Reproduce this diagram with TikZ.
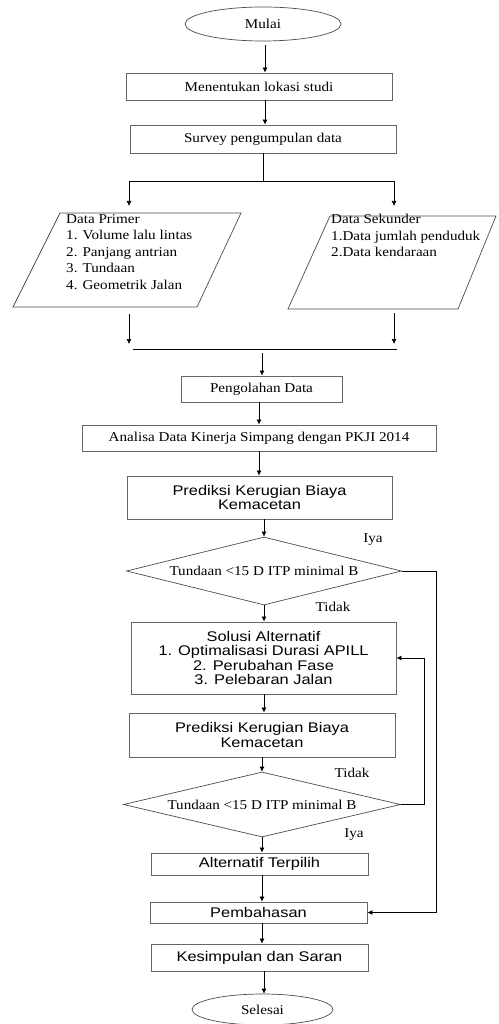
\documentclass[tikz,border=0pt]{standalone}
\usepackage{fontspec}
\setmainfont{Liberation Serif}
\newfontfamily\serw[FakeStretch=1.12]{Liberation Serif}
\newfontfamily\sanw[FakeStretch=1.17]{Liberation Sans}
\usetikzlibrary{shapes.geometric,arrows.meta}
\begin{document}
\begin{tikzpicture}[x=1pt,y=-1pt,
  box/.style={draw=black!60,line width=0.9pt,rectangle,inner sep=0pt,align=center},
  serb/.style={box,font=\serw\fontsize{13.5}{16}\selectfont},
  sanb/.style={box,font=\sanw\fontsize{14}{14.5}\selectfont},
  term/.style={draw=black!70,line width=0.7pt,ellipse,inner sep=0pt,font=\serw\fontsize{13.5}{16}\selectfont},
  dec/.style={draw=black!70,line width=0.7pt,diamond,shape aspect=4,inner sep=0pt,font=\serw\fontsize{13.5}{16}\selectfont},
  lbl/.style={font=\serw\fontsize{13.5}{16}\selectfont,inner sep=0pt},
  arr/.style={line width=0.7pt,-{Latex[length=5pt,width=5pt]}},
  ln/.style={line width=0.7pt}]
\useasboundingbox (0,0) rectangle (498,1024);

\node[term,minimum width=156,minimum height=34] (mulai) at (263,24) {Mulai};
\node[serb,minimum width=266,minimum height=27] (lok) at (259,86.5) {Menentukan lokasi studi};
\node[serb,minimum width=266,minimum height=28] (surv) at (263,139) {Survey pengumpulan data};

% split
\coordinate (m0) at (265,45);
\coordinate (l0) at (265,100);
\coordinate (s0) at (263,181);
\coordinate (sl) at (129,181);
\coordinate (sr) at (394,181);
\coordinate (slb) at (129,206);
\coordinate (srb) at (394,206);

% parallelograms
\draw[draw=black!70,line width=0.7pt] (60,213) coordinate (p1a) -- (241,213) -- (197,307) -- (13,307) -- cycle;
\draw[draw=black!70,line width=0.7pt] (330,216) coordinate (p2a) -- (496,216) -- (458,309) -- (288,309) -- cycle;
\node[font=\serw\fontsize{13.5}{16.5}\selectfont,align=left,anchor=north west,inner sep=0pt] (prim) at (66,214)
 {Data Primer\\1. Volume lalu lintas\\2. Panjang antrian\\3. Tundaan\\4. Geometrik Jalan};
\node[font=\serw\fontsize{13.5}{16.5}\selectfont,align=left,anchor=north west,inner sep=0pt] (sek) at (331,214)
 {Data Sekunder\\1.Data jumlah penduduk\\2.Data kendaraan};

\coordinate (l1) at (129,314);
\coordinate (l2) at (129,344);
\coordinate (r1) at (394,313);
\coordinate (r2) at (394,344);
\coordinate (ja) at (133,349);
\coordinate (jb) at (397,349);
\coordinate (j0) at (262,353);

\node[serb,minimum width=161,minimum height=26] (olah) at (261.5,389) {Pengolahan Data};
\node[serb,minimum width=354,minimum height=26] (anal) at (259,438) {Analisa Data Kinerja Simpang dengan PKJI 2014};
\node[sanb,minimum width=265,minimum height=43] (pred1) at (259.5,497.5) {Prediksi Kerugian Biaya\\Kemacetan};
\node[dec,minimum width=275,minimum height=68] (d1) at (264,571) {Tundaan <15 D ITP minimal B};
\node[sanb,minimum width=265,minimum height=72] (sol) at (263.5,658) {Solusi Alternatif\\1. Optimalisasi Durasi APILL\\2. Perubahan Fase\\3. Pelebaran Jalan};
\node[sanb,minimum width=266,minimum height=44] (pred2) at (262,735) {Prediksi Kerugian Biaya\\Kemacetan};
\node[dec,minimum width=277,minimum height=65] (d2) at (262,804.5) {Tundaan <15 D ITP minimal B};
\node[sanb,minimum width=217,minimum height=22] (alt) at (259.5,864) {Alternatif Terpilih};
\node[sanb,minimum width=217,minimum height=21] (bahas) at (258.5,912.5) {Pembahasan};
\node[sanb,minimum width=217,minimum height=27] (kes) at (259.5,957.5) {Kesimpulan dan Saran};
\node[term,minimum width=141,minimum height=31] (sel) at (262.5,1009.5) {Selesai};

\node[lbl] (iya1) at (373,540) {Iya};
\node[lbl] (tid1) at (333,607) {Tidak};
\node[lbl] (tid2) at (352,773) {Tidak};
\node[lbl] (iya2) at (354,835) {Iya};

% connectors
\draw[arr] (m0) -- (lok.north -| m0);
\draw[arr] (l0) -- (surv.north -| l0);
\draw[ln] (surv.south -| s0) -- (s0);
\draw[ln] (sl) -- (sr);
\draw[arr] (sl) -- (slb);
\draw[arr] (sr) -- (srb);
\draw[arr] (l1) -- (l2);
\draw[arr] (r1) -- (r2);
\draw[ln] (ja) -- (jb);
\draw[arr] (j0) -- (olah.north -| j0);
\draw[arr] (olah.south -| 259,0) -- (anal.north -| 259,0);
\draw[arr] (anal.south -| 259,0) -- (pred1.north -| 259,0);
\draw[arr] (pred1.south -| d1.north) -- (d1.north);
\draw[arr] (d1.south) -- (sol.north -| d1.south);
\draw[arr] (sol.south -| d1.south) -- (pred2.north -| d1.south);
\draw[arr] (pred2.south -| d2.north) -- (d2.north);
\draw[arr] (d2.south) -- (alt.north -| d2.south);
\draw[arr] (alt.south -| d2.south) -- (bahas.north -| d2.south);
\draw[arr] (bahas.south -| d2.south) -- (kes.north -| d2.south);
\draw[arr] (kes.south -| 264,0) -- (sel.north -| 264,0);
\draw[arr] (d1.east) -- (436,571) -- (436,912.5) -- (bahas.east);
\draw[arr] (d2.east) -- (424,804.5) -- (424,658) -- (sol.east);
\end{tikzpicture}
\end{document}
